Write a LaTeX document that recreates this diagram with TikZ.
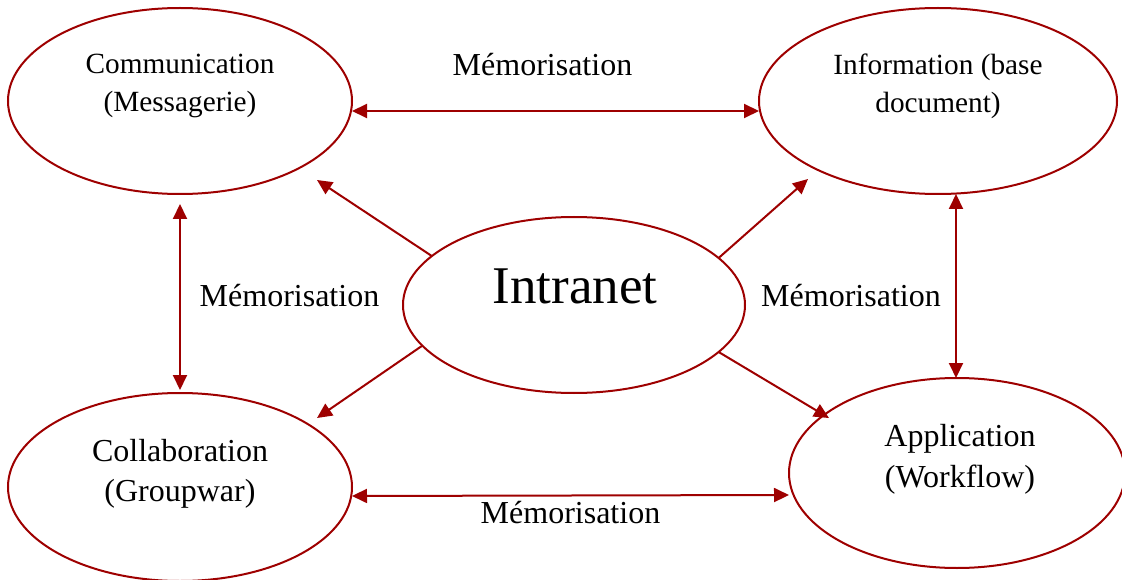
\documentclass[tikz,border=0pt]{standalone}
\usepackage{fontspec}
\setmainfont{Liberation Serif}
\usetikzlibrary{arrows.meta,shapes.geometric}
\definecolor{dred}{RGB}{158,0,0}
\begin{document}
\begin{tikzpicture}[x=1pt,y=-1pt,
  oval/.style={draw=dred,line width=2pt,ellipse,inner sep=0pt,outer sep=0pt},
  smalltxt/.style={align=center,inner sep=0pt,font=\fontsize{29.3}{38}\selectfont},
  bigtxt/.style={align=center,inner sep=0pt,font=\fontsize{32}{40.5}\selectfont},
  lbl/.style={anchor=base,inner sep=0pt,font=\fontsize{32}{38}\selectfont},
  tip/.style={Triangle[length=15pt,width=14pt]},
  conn/.style={draw=dred,line width=2pt,-{Triangle[length=15pt,width=14pt]}},
  dbl/.style={draw=dred,line width=2pt,{Triangle[length=15pt,width=14pt]}-{Triangle[length=15pt,width=14pt]}}]
\useasboundingbox (0,0) rectangle (1122,580);
% ellipses
\node[oval,minimum width=344pt,minimum height=186pt] (com) at (180,101) {};
\node[oval,minimum width=358pt,minimum height=186pt] (inf) at (938,101) {};
\node[oval,minimum width=342pt,minimum height=176pt] (intr) at (574,305) {};
\node[oval,minimum width=344pt,minimum height=188pt] (col) at (180,487) {};
\node[oval,minimum width=336pt,minimum height=190pt] (app) at (957,473) {};
% texts
\node[smalltxt] (comT) at (180,86) {Communication\\(Messagerie)};
\node[smalltxt] (infT) at (938,86) {Information (base\\document)};
\node[bigtxt] (colT) at (180,474) {Collaboration\\(Groupwar)};
\node[bigtxt] (appT) at (960,459.5) {Application\\(Workflow)};
\node[anchor=base,inner sep=0pt,font=\fontsize{53}{60}\selectfont] (intrT) at (575,303) {Intranet};
\node[lbl] (l1) at (542.5,76) {Mémorisation};
\node[lbl] (l2) at (289.5,306) {Mémorisation};
\node[lbl] (l3) at (851,306) {Mémorisation};
\node[lbl] (l4) at (570.5,523) {Mémorisation};
% free ends of diagonal arrows
\coordinate (tUL) at (317,180);
\coordinate (tUR) at (808,179);
\coordinate (tLL) at (317,418);
\coordinate (tLR) at (829,418);
% diagonal arrows
\draw[conn] (intr.161.8) -- (tUL);
\draw[conn] (intr.18.6) -- (tUR);
\draw[conn] (intr.195.6) -- (tLL);
\draw[conn] (intr.342.5) -- (tLR);
% double arrows
\draw[dbl] ([yshift=-10pt]com.east) -- ([yshift=-10pt]inf.west);
\draw[dbl] ([yshift=-9pt]col.east) -- ([yshift=-22pt]app.west);
\draw[dbl] ([yshift=-10pt]com.south) -- ([yshift=3pt]col.north);
\draw[dbl] ([xshift=18pt]inf.south) -- ([xshift=-1pt]app.north);
\end{tikzpicture}
\end{document}
